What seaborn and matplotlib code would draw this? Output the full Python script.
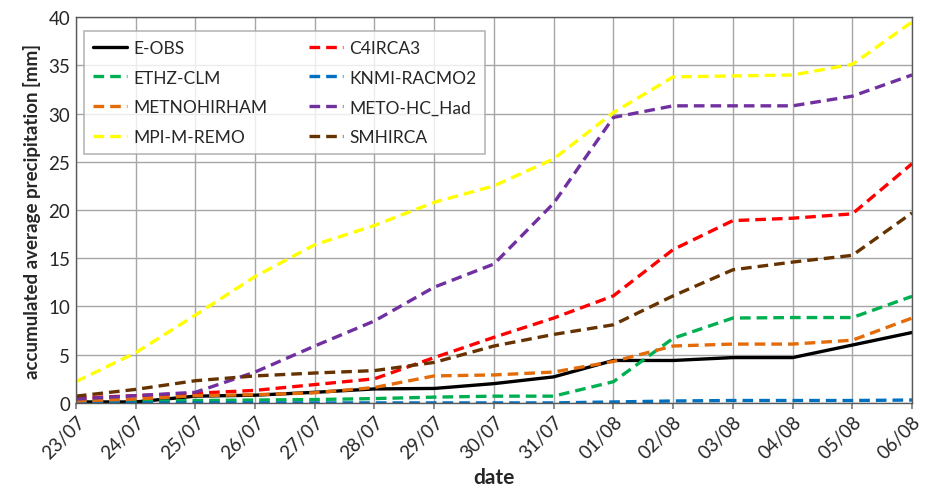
import numpy as np
import pandas as pd
import matplotlib
matplotlib.use("Agg")
import matplotlib.pyplot as plt
import seaborn as sns

dates = ["23/07", "24/07", "25/07", "26/07", "27/07", "28/07", "29/07", "30/07",
         "31/07", "01/08", "02/08", "03/08", "04/08", "05/08", "06/08"]

e_obs = [0.1, 0.1, 0.7, 0.8, 1.1, 1.45, 1.5, 2.0, 2.7, 4.4, 4.4, 4.7, 4.7, 6.0, 7.3]
c4irca3 = [0.5, 0.75, 1.0, 1.3, 1.9, 2.5, 4.7, 6.8, 8.8, 11.1, 15.9, 18.9, 19.15, 19.6, 24.8]
ethz_clm = [0.1, 0.15, 0.25, 0.3, 0.35, 0.45, 0.6, 0.7, 0.7, 2.2, 6.7, 8.8, 8.85, 8.85, 11.05]
knmi_racmo2 = [0.0, 0.0, 0.0, 0.0, 0.0, 0.0, 0.0, 0.0, 0.0, 0.1, 0.2, 0.25, 0.25, 0.25, 0.3]
metnohirham = [0.2, 0.4, 0.75, 0.85, 1.05, 1.6, 2.8, 2.9, 3.2, 4.3, 5.9, 6.1, 6.1, 6.5, 8.8]
meto_hc_had = [0.4, 0.75, 1.1, 3.2, 5.9, 8.5, 12.0, 14.4, 20.7, 29.6, 30.8, 30.8, 30.8, 31.8, 34.0]
mpi_m_remo = [2.2, 5.2, 9.1, 13.1, 16.4, 18.4, 20.8, 22.5, 25.3, 30.1, 33.8, 33.9, 34.0, 35.1, 39.5]
smhirca = [0.7, 1.4, 2.3, 2.8, 3.1, 3.35, 4.2, 5.9, 7.1, 8.1, 11.1, 13.8, 14.6, 15.3, 19.7]

series_names = ["E-OBS", "C4IRCA3", "ETHZ-CLM", "KNMI-RACMO2",
                "METNOHIRHAM", "METO-HC_Had", "MPI-M-REMO", "SMHIRCA"]
series_values = [e_obs, c4irca3, ethz_clm, knmi_racmo2,
                 metnohirham, meto_hc_had, mpi_m_remo, smhirca]
colors = ["#000000", "#ff0000", "#00b050", "#0070c0",
          "#e36c09", "#7030a0", "#ffff00", "#663300"]

rows = []
for name, vals in zip(series_names, series_values):
    for i, v in enumerate(vals):
        rows.append({"idx": i, "value": v, "series": name})
df = pd.DataFrame(rows)

sns.set_theme(style="white")
plt.rcParams["font.family"] = ["Lato", "DejaVu Sans"]

fig = plt.figure(figsize=(9.25, 4.89), dpi=100)
ax = fig.add_axes([0.082, 0.174, 0.904, 0.789])

dash_map = {n: (3.2, 1.8) for n in series_names}
dash_map["E-OBS"] = ""
sns.lineplot(data=df, x="idx", y="value", hue="series", style="series",
             hue_order=series_names, style_order=series_names,
             palette=dict(zip(series_names, colors)), dashes=dash_map,
             linewidth=2.4, ax=ax, legend=True, sort=False)

ax.set_xlim(0, len(dates) - 1)
ax.set_ylim(0, 40)
ax.set_xticks(range(len(dates)))
ax.set_xticklabels(dates, rotation=45, ha="right", rotation_mode="anchor", fontsize=13.5)
ax.set_yticks(range(0, 41, 5))
ax.tick_params(axis="y", labelsize=13.5, length=0, pad=4)
ax.tick_params(axis="x", length=4, color="#808080", direction="out", bottom=True, pad=3)
ax.grid(True, color="#a6a6a6", linewidth=1.0)
ax.set_axisbelow(True)
for s in ax.spines.values():
    s.set_color("#595959")
    s.set_linewidth(1.0)

ax.set_xlabel("date", fontsize=15, fontweight="bold", labelpad=4)
ax.set_ylabel("accumulated average precipitation [mm]", fontsize=13.5, fontweight="bold", labelpad=5)

handles, labels = ax.get_legend_handles_labels()
hmap = dict(zip(labels, handles))
order = ["E-OBS", "ETHZ-CLM", "METNOHIRHAM", "MPI-M-REMO",
         "C4IRCA3", "KNMI-RACMO2", "METO-HC_Had", "SMHIRCA"]
leg = ax.legend([hmap[o] for o in order], order, ncol=2, loc="upper left",
                bbox_to_anchor=(0.0096, 0.5, 0.48, 0.464), mode="expand",
                fontsize=12.5, frameon=True,
                fancybox=False, edgecolor="#a6a6a6", handlelength=2.0,
                labelspacing=0.8, borderpad=0.5, borderaxespad=0.0,
                handletextpad=0.35)
leg.get_frame().set_linewidth(1.2)
for line in leg.get_lines():
    line.set_linewidth(2.4)

fig.savefig("out.png", dpi=100)
